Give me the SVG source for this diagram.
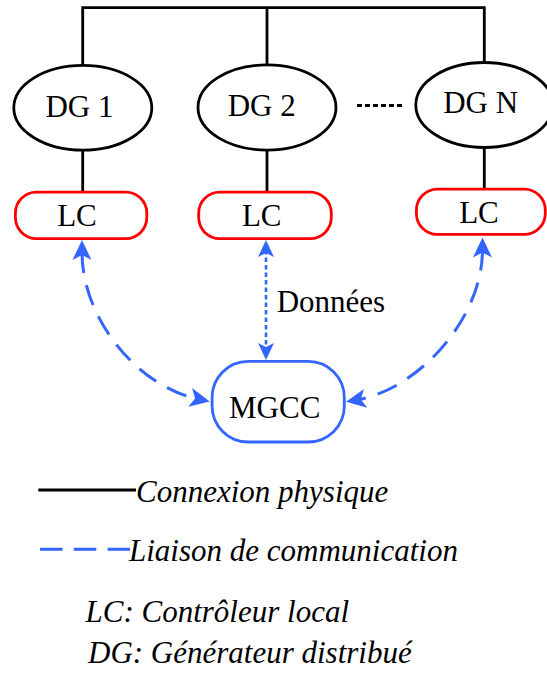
<svg xmlns="http://www.w3.org/2000/svg" width="547" height="675" viewBox="0 0 547 675">
<style>
.dg{fill:#fff;stroke:#000;stroke-width:2.8}
.lc{fill:#fff;stroke:#ff0000;stroke-width:2.8}
.mg{fill:#fff;stroke:#3366ff;stroke-width:2.8}
.wire{fill:none;stroke:#000;stroke-width:2.8}
.comm{fill:none;stroke:#3366ff;stroke-width:3;stroke-dasharray:21 12.5}
.data{fill:none;stroke:#3366ff;stroke-width:2.6;stroke-dasharray:4.5 3}
.t{font-size:31px;fill:#000}
.c{text-anchor:middle}
.i{font-style:italic}
</style>
<defs>
<marker id="arr" markerUnits="userSpaceOnUse" viewBox="-20 -10 34 20" refX="-12" refY="0" markerWidth="34" markerHeight="20" orient="auto-start-reverse" overflow="visible">
<path d="M0,0 L-20,-9.5 L-15,0 L-20,9.5 Z" fill="#3366ff"/>
</marker>
<marker id="arrS" markerUnits="userSpaceOnUse" viewBox="-18 -9 30 18" refX="-10" refY="0" markerWidth="30" markerHeight="18" orient="auto-start-reverse" overflow="visible">
<path d="M0,0 L-17,-8 L-13,0 L-17,8 Z" fill="#3366ff"/>
</marker>
</defs>

<g id="connectors">
<path class="wire" d="M82.7,65 V7.7 H484.3 V62.5 M267,7.7 V64.8"/>
<path class="wire" d="M82.7,150 V192.2 M267,150 V192.2 M484.3,147.5 V189.2"/>
<path class="wire" d="M357,105.5 H405" stroke-dasharray="5 3"/>
<path class="comm" d="M82,252 C82,320 139,387 198,399" marker-start="url(#arr)" marker-end="url(#arr)"/>
<path class="comm" d="M482.5,249.5 C482.5,320 417,389.5 357.8,399.7" marker-start="url(#arr)" marker-end="url(#arr)"/>
<path class="data" d="M266,250 V350" marker-start="url(#arrS)" marker-end="url(#arrS)"/>
</g>

<g id="dg1">
<ellipse class="dg" cx="82.8" cy="107.8" rx="69" ry="42.4"/>
<text class="t c" x="79.5" y="116.7" font-family="Liberation Serif, serif">DG 1</text>
</g>
<g id="dg2">
<ellipse class="dg" cx="267" cy="107.5" rx="69" ry="42.6"/>
<text class="t c" x="261.7" y="115.7" font-family="Liberation Serif, serif">DG 2</text>
</g>
<g id="dgn">
<ellipse class="dg" cx="484.3" cy="105" rx="68.5" ry="42.5"/>
<text class="t c" x="480.7" y="113.3" font-family="Liberation Serif, serif">DG N</text>
</g>

<g id="lc1">
<rect class="lc" x="15.4" y="192.2" width="131.4" height="46.4" rx="21" ry="21"/>
<text class="t c" x="77" y="226" font-family="Liberation Serif, serif">LC</text>
</g>
<g id="lc2">
<rect class="lc" x="198.7" y="192.2" width="132.6" height="46.4" rx="21" ry="21"/>
<text class="t c" x="261.7" y="226" font-family="Liberation Serif, serif">LC</text>
</g>
<g id="lcn">
<rect class="lc" x="416.4" y="189.2" width="128.9" height="45.2" rx="21" ry="21"/>
<text class="t c" x="479" y="222.7" font-family="Liberation Serif, serif">LC</text>
</g>

<g id="mgcc">
<rect class="mg" x="212.1" y="361.4" width="132.2" height="80.6" rx="36" ry="36"/>
<text class="t c" x="274.7" y="418.3" font-family="Liberation Serif, serif">MGCC</text>
</g>

<g id="label-donnees">
<text class="t" x="276.7" y="311.7" font-family="Liberation Serif, serif">Données</text>
</g>

<g id="legend">
<path class="wire" d="M38.3,490 H136"/>
<path fill="none" stroke="#3366ff" stroke-width="3" stroke-dasharray="22.5 11.3" d="M40,549.3 H131"/>
<text class="t i" x="136" y="502.3" font-family="Liberation Serif, serif">Connexion physique</text>
<text class="t i" x="129" y="560.7" font-family="Liberation Serif, serif">Liaison de communication</text>
<text class="t i" x="85.5" y="622.3" font-family="Liberation Serif, serif">LC: Contrôleur local</text>
<text class="t i" x="88" y="663.3" font-family="Liberation Serif, serif">DG: Générateur distribué</text>
</g>
</svg>
